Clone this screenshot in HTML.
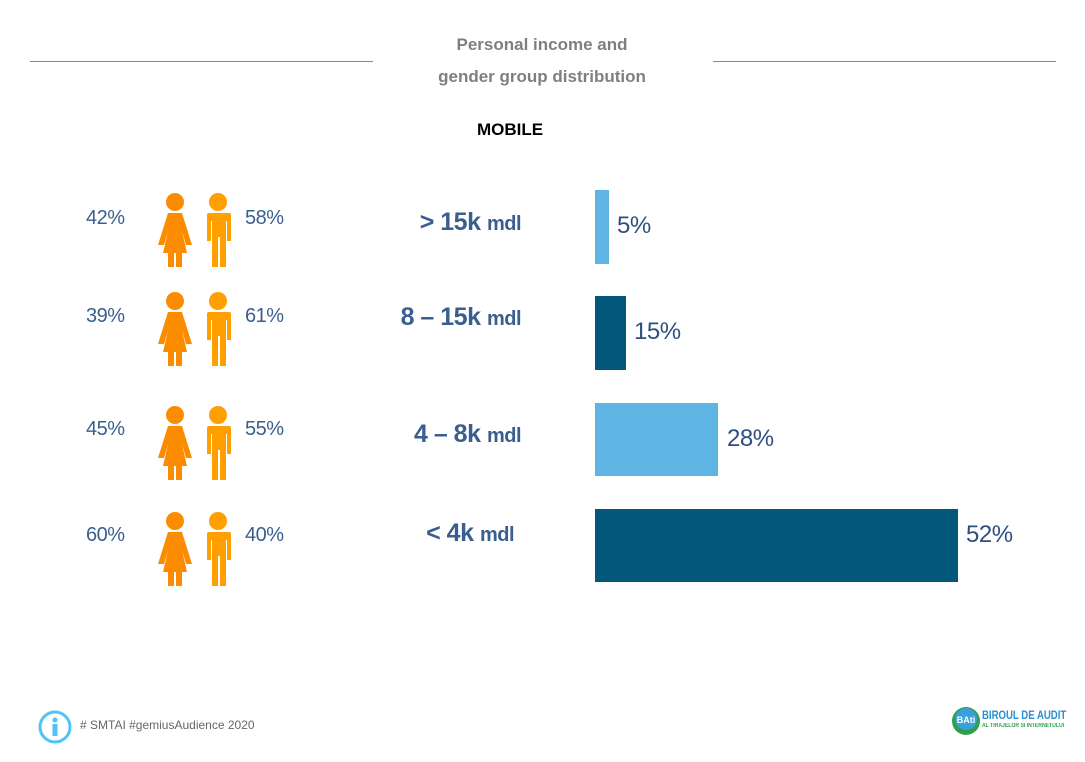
<!DOCTYPE html>
<html><head><meta charset="utf-8"><style>
body{margin:0;width:1085px;height:762px;background:#fff;position:relative;font-family:"Liberation Sans",sans-serif;overflow:hidden}
.a{position:absolute;white-space:nowrap}
.t{color:#7f7f7f;font-weight:bold;font-size:17px;text-align:center;width:300px;left:392px}
.p{color:#3a5f8f;font-size:20px;letter-spacing:-0.5px}
.l{color:#3a5f8f;font-weight:bold;font-size:25px;text-align:right;width:200px;left:321px;letter-spacing:-0.5px}
.l small{font-size:20px}
.v{color:#2f4f7f;font-size:24px;letter-spacing:-0.5px}
.bar{position:absolute;left:595px}
</style></head><body>
<div class="a" style="left:30px;top:61px;width:343px;height:1px;background:#888"></div>
<div class="a" style="left:713px;top:61px;width:343px;height:1px;background:#888"></div>
<div class="a t" style="top:35px">Personal income and</div>
<div class="a t" style="top:67px">gender group distribution</div>
<div class="a" style="left:477px;top:120px;font-weight:bold;font-size:17px;color:#000">MOBILE</div>

<svg width="0" height="0" style="position:absolute"><defs>
<g id="w"><circle cx="17" cy="9" r="9" fill="#fb8c00"/><path d="M10 20h14l10 32h-6l-4-14 5 22h-5v14h-6v-14h-2v14h-6v-14h-5l5-22-4 14h-6z" fill="#fb8c00"/></g>
<g id="m"><circle cx="13" cy="9" r="9" fill="#ffa000"/><path d="M2 20h22a2 2 0 0 1 2 2v26h-4v-20h-1v46h-6v-30h-2v30h-6v-46h-1v20h-4v-26a2 2 0 0 1 2-2z" fill="#ffa000"/></g>
</defs></svg>

<div class="a p" style="left:86px;top:207px">42%</div>
<svg class="a" style="left:158px;top:193px" width="80" height="75"><use href="#w"/><use href="#m" x="47"/></svg>
<div class="a p" style="left:245px;top:207px">58%</div>
<div class="a l" style="top:208px">&gt; 15k <small>mdl</small></div>
<div class="bar" style="top:190px;width:14px;height:74px;background:#5eb5e4"></div>
<div class="a v" style="left:617px;top:212px">5%</div>

<div class="a p" style="left:86px;top:305px">39%</div>
<svg class="a" style="left:158px;top:292px" width="80" height="75"><use href="#w"/><use href="#m" x="47"/></svg>
<div class="a p" style="left:245px;top:305px">61%</div>
<div class="a l" style="top:303px">8 – 15k <small>mdl</small></div>
<div class="bar" style="top:296px;width:31px;height:74px;background:#02577a"></div>
<div class="a v" style="left:634px;top:318px">15%</div>

<div class="a p" style="left:86px;top:418px">45%</div>
<svg class="a" style="left:158px;top:406px" width="80" height="75"><use href="#w"/><use href="#m" x="47"/></svg>
<div class="a p" style="left:245px;top:418px">55%</div>
<div class="a l" style="top:420px">4 – 8k <small>mdl</small></div>
<div class="bar" style="top:403px;width:123px;height:73px;background:#5eb5e4"></div>
<div class="a v" style="left:727px;top:425px">28%</div>

<div class="a p" style="left:86px;top:524px">60%</div>
<svg class="a" style="left:158px;top:512px" width="80" height="75"><use href="#w"/><use href="#m" x="47"/></svg>
<div class="a p" style="left:245px;top:524px">40%</div>
<div class="a l" style="top:519px;width:193px">&lt; 4k <small>mdl</small></div>
<div class="bar" style="top:509px;width:363px;height:73px;background:#02577a"></div>
<div class="a v" style="left:966px;top:521px">52%</div>

<svg class="a" style="left:37px;top:709px" width="36" height="36"><circle cx="18" cy="18" r="15" fill="none" stroke="#4fc3f7" stroke-width="3"/><circle cx="18" cy="11" r="2.5" fill="#4fc3f7"/><rect x="15.5" y="15" width="5" height="12" fill="#4fc3f7"/></svg>
<div class="a" style="left:80px;top:718px;font-size:12px;color:#666"># SMTAI #gemiusAudience 2020</div>
<svg class="a" style="left:951px;top:706px" width="30" height="30"><circle cx="15" cy="15" r="14" fill="#2e9e4f"/><circle cx="15" cy="13" r="11" fill="#3aa0d8"/><text x="15" y="17" font-size="9" font-weight="bold" fill="#fff" text-anchor="middle" font-family="Liberation Sans">BAti</text></svg>
<div class="a" style="left:982px;top:708px;font-size:12px;font-weight:bold;color:#2a8fd0;transform:scaleX(0.8);transform-origin:left">BIROUL DE AUDIT</div>
<div class="a" style="left:982px;top:723px;font-size:6px;font-weight:bold;color:#2e9e4f;transform:scaleX(0.85);transform-origin:left">AL TIRAJELOR SI INTERNETULUI</div>
</body></html>
